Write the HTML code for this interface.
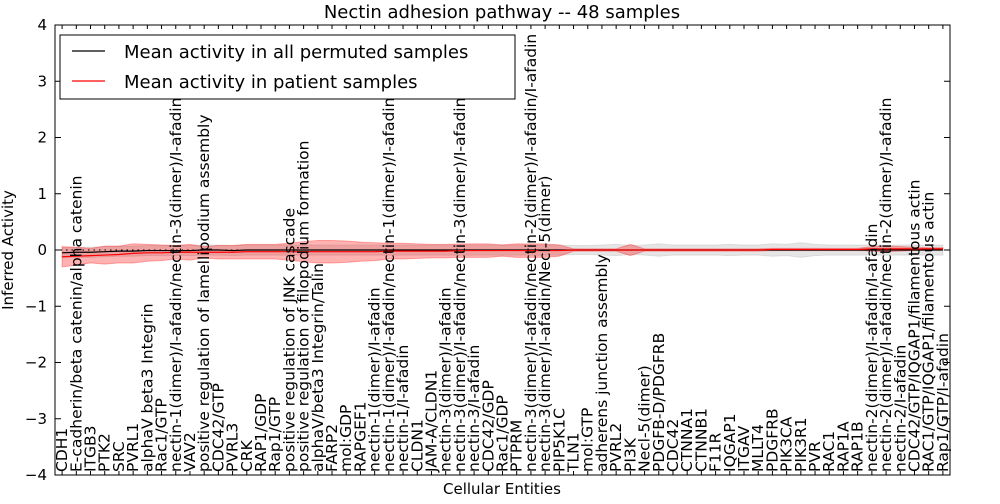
<!DOCTYPE html>
<html><head><meta charset="utf-8"><style>
body{margin:0;background:#fff;font-family:"DejaVu Sans","Liberation Sans",sans-serif}
</style></head><body>
<svg id="chart" width="1000" height="500" viewBox="0 0 1000 500" xmlns="http://www.w3.org/2000/svg">
<text x="502" y="18" text-anchor="middle" font-size="18">Nectin adhesion pathway -- 48 samples</text>
<g id="bands"></g>
<g id="labels"></g>
<rect x="55" y="25" width="895" height="450" fill="none" stroke="#000" stroke-width="1"/>
<g id="yaxis"></g>
<text x="502" y="494" text-anchor="middle" font-size="15">Cellular Entities</text>
<text transform="translate(13,250) rotate(-90)" text-anchor="middle" font-size="15">Inferred Activity</text>
<g>
<rect x="60" y="35" width="455" height="64" fill="#fff" stroke="#000"/>
<line x1="72" y1="51" x2="105" y2="51" stroke="#000" stroke-width="1.2"/>
<text x="124" y="58" font-size="18">Mean activity in all permuted samples</text>
<line x1="72" y1="81" x2="105" y2="81" stroke="#f00" stroke-width="1.2"/>
<text x="124" y="88" font-size="18">Mean activity in patient samples</text>
</g>
</svg>
<script>
const categories=["CDH1","E-cadherin/beta catenin/alpha catenin","ITGB3","PTK2","SRC","PVRL1","alphaV beta3 Integrin","Rac1/GTP","nectin-1(dimer)/I-afadin/nectin-3(dimer)/I-afadin","VAV2","positive regulation of lamellipodium assembly","CDC42/GTP","PVRL3","CRK","RAP1/GDP","Rap1/GTP","positive regulation of JNK cascade","positive regulation of filopodium formation","alphaV/beta3 Integrin/Talin","FARP2","mol:GDP","RAPGEF1","nectin-1(dimer)/I-afadin","nectin-1(dimer)/I-afadin/nectin-1(dimer)/I-afadin","nectin-1/I-afadin","CLDN1","JAM-A/CLDN1","nectin-3(dimer)/I-afadin","nectin-3(dimer)/I-afadin/nectin-3(dimer)/I-afadin","nectin-3/I-afadin","CDC42/GDP","Rac1/GDP","PTPRM","nectin-3(dimer)/I-afadin/nectin-2(dimer)/I-afadin/I-afadin","nectin-3(dimer)/I-afadin/Necl-5(dimer)","PIP5K1C","TLN1","mol:GTP","adherens junction assembly","PVRL2","PI3K","Necl-5(dimer)","PDGFB-D/PDGFRB","CDC42","CTNNA1","CTNNB1","F11R","IQGAP1","ITGAV","MLLT4","PDGFRB","PIK3CA","PIK3R1","PVR","RAC1","RAP1A","RAP1B","nectin-2(dimer)/I-afadin/I-afadin","nectin-2(dimer)/I-afadin/nectin-2(dimer)/I-afadin","nectin-2/I-afadin","CDC42/GTP/IQGAP1/filamentous actin","RAC1/GTP/IQGAP1/filamentous actin","Rap1/GTP/I-afadin"];
const patientMean=[-0.12,-0.11,-0.1,-0.09,-0.08,-0.06,-0.05,-0.05,-0.04,-0.04,-0.04,-0.04,-0.04,-0.03,-0.03,-0.03,-0.03,-0.03,-0.03,-0.03,-0.03,-0.03,-0.03,-0.02,-0.02,-0.02,-0.02,-0.02,-0.01,-0.01,-0.01,-0.01,-0.01,-0.01,-0.01,-0.01,0,0,0,0,0,0,0,0,0,0,0,0,0,0,0.01,0.01,0.01,0.01,0.01,0.01,0.01,0.02,0.02,0.02,0.02,0.02,0.02];
const patientSpread=[0.18,0.16,0.13,0.16,0.15,0.17,0.15,0.14,0.12,0.14,0.1,0.12,0.12,0.13,0.13,0.13,0.15,0.18,0.2,0.2,0.19,0.17,0.16,0.14,0.14,0.13,0.12,0.12,0.12,0.12,0.12,0.1,0.12,0.12,0.12,0.1,0.02,0.02,0.02,0.02,0.1,0.02,0.02,0.02,0.02,0.02,0.02,0.02,0.02,0.02,0.02,0.02,0.02,0.02,0.02,0.02,0.02,0.04,0.05,0.04,0.03,0.02,0.02];
const permMean=[-0.05,-0.04,-0.04,-0.03,-0.02,-0.02,-0.01,-0.01,-0.01,-0.01,0,0,-0.01,0,0,0,0,0,0,0,0,0,0,0,0,0,0,0,0,0,0,0,0,0,0,0,0,0,0,0,0,0,0,0,0,0,0,0,0,0,0,0,0,0,0,0,0,0,0,0,0,0,0];
const permSpread=[0.09,0.09,0.09,0.09,0.09,0.09,0.09,0.09,0.09,0.09,0.09,0.09,0.09,0.09,0.09,0.09,0.09,0.09,0.09,0.09,0.09,0.09,0.09,0.09,0.09,0.09,0.09,0.09,0.09,0.09,0.09,0.09,0.09,0.09,0.09,0.09,0.08,0.08,0.09,0.1,0.08,0.09,0.11,0.09,0.09,0.09,0.09,0.1,0.09,0.09,0.11,0.1,0.13,0.1,0.09,0.09,0.09,0.09,0.09,0.09,0.09,0.09,0.09];
const yTicks=[-4,-3,-2,-1,0,1,2,3,4];
const X0=55,X1=950,Y0=25,Y1=475,n=categories.length;
const xs=i=>X0+(i+0.5)*(X1-X0)/n;
const ys=v=>Y0+(4-v)*(Y1-Y0)/8;
const NS="http://www.w3.org/2000/svg";
function mk(t,a,p){const e=document.createElementNS(NS,t);for(const k in a)e.setAttribute(k,a[k]);p.appendChild(e);return e;}
const bands=document.getElementById('bands');
function band(mean,sp,fill,op,name){
  let up=mean.map((m,i)=>xs(i)+','+ys(m+sp[i]));
  let dn=mean.map((m,i)=>xs(i)+','+ys(m-sp[i])).reverse();
  const p=mk('polygon',{points:up.concat(dn).join(' '),fill:fill,'fill-opacity':op,stroke:fill,'stroke-opacity':op},bands);
  
  
}
band(permMean,permSpread,'#aaa','0.3','permuted-band');
band(patientMean,patientSpread,'#f00','0.3','patient-band');
const zl=mk('line',{x1:X0,x2:X1,y1:ys(0),y2:ys(0),stroke:'#000','stroke-dasharray':'1.5,4'},bands);


const l1=mk('polyline',{points:permMean.map((m,i)=>xs(i)+','+ys(m)).join(' '),fill:'none',stroke:'#000','stroke-width':1.2},bands);


const l2=mk('polyline',{points:patientMean.map((m,i)=>xs(i)+','+ys(m)).join(' '),fill:'none',stroke:'#f00','stroke-width':1.2},bands);


const lab=document.getElementById('labels');
categories.forEach((c,i)=>{
  const t=mk('text',{transform:`translate(${xs(i)+5},472) rotate(-90)`,'font-size':'15.5'},lab);
  t.textContent=c;
  
  
  mk('line',{x1:xs(i),x2:xs(i),y1:Y1,y2:Y1-4,stroke:'#000'},lab);
  mk('line',{x1:xs(i),x2:xs(i),y1:Y0,y2:Y0+4,stroke:'#000'},lab);
});
const ya=document.getElementById('yaxis');
yTicks.forEach(v=>{
  const t=mk('text',{x:47,y:ys(v)+5,'text-anchor':'end','font-size':'15'},ya);
  t.textContent=(v<0?'\u2212':'')+Math.abs(v);
  
  
  mk('line',{x1:X0,x2:X0+6,y1:ys(v),y2:ys(v),stroke:'#000'},ya);
  mk('line',{x1:X1,x2:X1-6,y1:ys(v),y2:ys(v),stroke:'#000'},ya);
});
</script>
</body></html>
